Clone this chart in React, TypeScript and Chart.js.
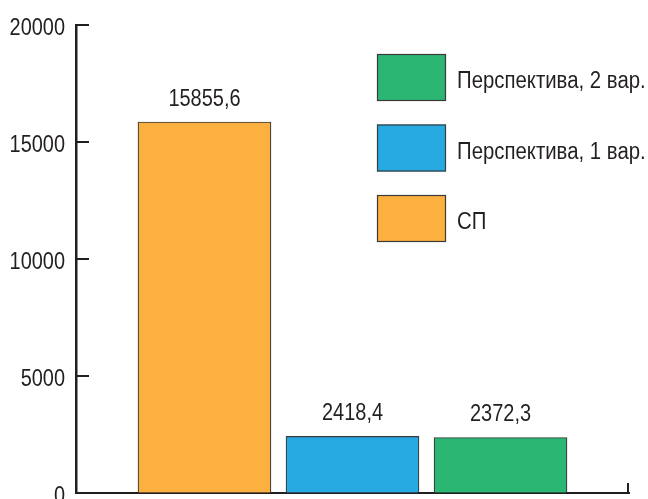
import React, { useEffect, useRef } from 'react';
import { Chart, registerables } from 'chart.js';

Chart.register(...registerables);

// Series shown as bars, left to right
const seriesNames = ['СП', 'Перспектива, 1 вар.', 'Перспектива, 2 вар.'];
const seriesValues = [15855.6, 2418.4, 2372.3];
const seriesColors = ['#FBB040', '#27AAE1', '#2BB673'];

// Value axis
const yMin = 0;
const yMax = 20000;
const yStep = 5000;

const FONT_FAMILY = "'Liberation Sans', Arial, sans-serif";
const INK = '#231F20';
const BAR_EDGE = '#3a3a3a';

const formatValue = (v: number) => v.toFixed(1).replace('.', ',');

// Draws text horizontally condensed (narrow sans look), anchored at (x, y)
function drawNarrowText(
  ctx: CanvasRenderingContext2D,
  text: string,
  x: number,
  y: number,
  size: number,
  align: CanvasTextAlign,
  squeeze: number,
) {
  ctx.save();
  ctx.font = `${size}px ${FONT_FAMILY}`;
  ctx.textAlign = align;
  ctx.textBaseline = 'alphabetic';
  ctx.fillStyle = INK;
  ctx.translate(x, y);
  ctx.scale(squeeze, 1);
  ctx.fillText(text, 0, 0);
  ctx.restore();
}

// Inward tick marks and tick labels on the axes
const axisTicksPlugin = {
  id: 'axisTicks',
  afterDatasetsDraw(chart: any) {
    const { ctx, chartArea, scales } = chart;
    const y = scales.y;
    const x = scales.x;
    ctx.save();
    ctx.strokeStyle = INK;
    ctx.lineWidth = 2;
    y.ticks.forEach((t: any) => {
      const py = Math.round(y.getPixelForValue(t.value));
      ctx.beginPath();
      ctx.moveTo(chartArea.left, py);
      ctx.lineTo(chartArea.left + 13, py);
      ctx.stroke();
      drawNarrowText(ctx, String(t.value), chartArea.left - 11, py + 9.5, 24, 'right', 0.83);
    });
    const px = Math.round(x.getPixelForValue(x.max)) - 1;
    ctx.beginPath();
    ctx.moveTo(px, chartArea.bottom);
    ctx.lineTo(px, chartArea.bottom - 10);
    ctx.stroke();
    ctx.restore();
  },
};

// Value captions above each bar
const valueLabelsPlugin = {
  id: 'valueLabels',
  afterDatasetsDraw(chart: any) {
    const { ctx } = chart;
    chart.data.datasets.forEach((ds: any, i: number) => {
      const bar = chart.getDatasetMeta(i).data[0];
      drawNarrowText(ctx, formatValue(ds.data[0].y), bar.x, bar.y - 16, 23.5, 'center', 0.85);
    });
  },
};

// Legend as a column of large swatches in the upper right of the plot
const swatchLegendPlugin = {
  id: 'swatchLegend',
  afterDraw(chart: any) {
    const { ctx, chartArea } = chart;
    const left = chartArea.right - 252;
    const top = chartArea.top + 29;
    const w = 69;
    const h = 47;
    const step = 70.5;
    const items = chart.data.datasets.slice().reverse();
    items.forEach((ds: any, i: number) => {
      const y0 = top + i * step;
      ctx.save();
      ctx.fillStyle = ds.backgroundColor;
      ctx.fillRect(left, y0, w, h);
      ctx.strokeStyle = BAR_EDGE;
      ctx.lineWidth = 1.2;
      ctx.strokeRect(left + 0.5, y0 + 0.5, w - 1, h - 1);
      ctx.restore();
      drawNarrowText(ctx, ds.label, left + w + 11, y0 + h / 2 + 10.5, 23, 'left', 0.885);
    });
  },
};

export default function App() {
  const canvasRef = useRef<HTMLCanvasElement | null>(null);

  useEffect(() => {
    if (!canvasRef.current) return;
    const chart = new Chart(canvasRef.current, {
      type: 'bar',
      data: {
        datasets: seriesNames.map((name, i) => ({
          label: name,
          data: [{ x: i, y: seriesValues[i] }],
          backgroundColor: seriesColors[i],
          borderColor: BAR_EDGE,
          borderWidth: 1.2,
          barThickness: 133,
          grouped: false,
        })),
      },
      options: {
        animation: false,
        responsive: true,
        maintainAspectRatio: false,
        layout: { padding: { top: 25, right: 19, bottom: 27, left: 0 } },
        plugins: {
          legend: { display: false },
          tooltip: { enabled: false },
        },
        scales: {
          x: {
            type: 'linear',
            offset: false,
            min: -0.868,
            max: 2.868,
            ticks: { display: false },
            grid: { drawOnChartArea: false, drawTicks: false, offset: false },
            border: { color: INK, width: 2 },
            afterFit: (s: any) => {
              s.height = 0;
            },
          },
          y: {
            min: yMin,
            max: yMax,
            ticks: { stepSize: yStep, display: false },
            grid: { drawOnChartArea: false, drawTicks: false },
            border: { color: INK, width: 2.5 },
            afterFit: (s: any) => {
              s.width = 76;
            },
          },
        },
      },
      plugins: [axisTicksPlugin, valueLabelsPlugin, swatchLegendPlugin],
    });
    return () => chart.destroy();
  }, []);

  return (
    <div style={{ position: 'fixed', left: 0, top: 0, width: 648, height: 520, background: '#fff' }}>
      <canvas ref={canvasRef} />
    </div>
  );
}
